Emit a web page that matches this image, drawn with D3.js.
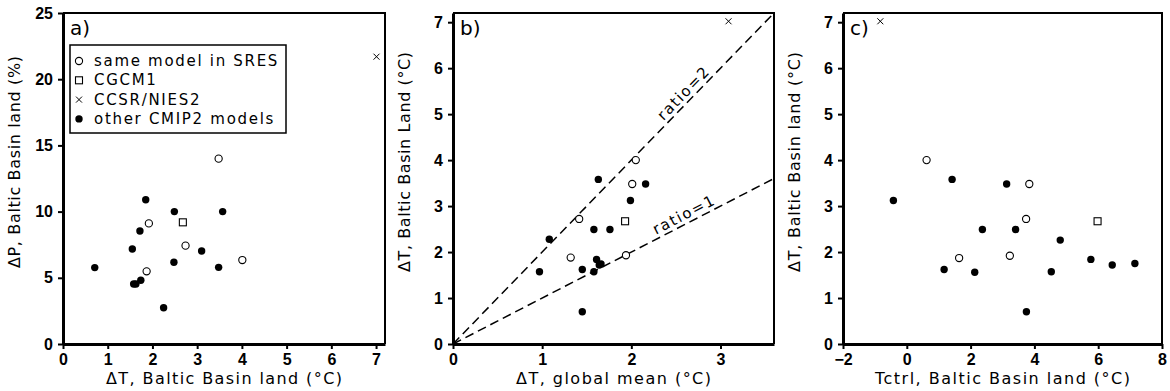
<!DOCTYPE html>
<html>
<head>
<meta charset="utf-8">
<script src="https://cdn.jsdelivr.net/npm/d3@7"></script>
<style>
  body { margin: 0; background: #fff; }
  .lbl { font-family: "DejaVu Sans", sans-serif; font-size: 15px; letter-spacing: 1.7px; }
  .ttl { font-family: "DejaVu Sans", sans-serif; font-size: 16px; }
</style>
</head>
<body>
<div id="chart"></div>
<script>
// panel a: dT Baltic land vs dP Baltic land
const aOther = [[0.71,5.77],[1.55,7.17],[1.58,4.53],[1.63,4.53],[1.72,8.53],[1.74,4.81],[1.85,10.9],
  [2.25,2.74],[2.48,6.17],[2.49,10.0],[3.10,7.02],[3.48,5.79],[3.57,10.0]];
const aSres = [[1.92,9.11],[1.87,5.49],[2.74,7.43],[4.01,6.34],[3.48,14.0]];
const aCgcm = [[2.68,9.19]];
const aCcsr = [[7.01,21.7]];

// panel b: dT global mean vs dT Baltic land
const bOther = [[0.97,1.57],[1.08,2.28],[1.45,1.62],[1.45,0.70],[1.58,1.57],[1.58,2.49],[1.61,1.84],
  [1.64,1.72],[1.66,1.74],[1.63,3.58],[1.76,2.49],[1.99,3.12],[2.16,3.48]];
const bSres = [[1.415,2.72],[1.32,1.88],[1.94,1.93],[2.05,4.0],[2.01,3.48]];
const bCgcm = [[1.93,2.67]];
const bCcsr = [[3.09,7.02]];
const ratios = [2, 1];

// panel c: Tctrl Baltic land vs dT Baltic land
const cOther = [[-0.42,3.12],[1.17,1.62],[1.42,3.58],[2.13,1.56],[2.37,2.49],[3.13,3.48],[3.41,2.49],
  [3.75,0.70],[4.53,1.57],[4.81,2.26],[5.77,1.84],[6.44,1.72],[7.15,1.75]];
const cSres = [[1.64,1.87],[3.23,1.92],[3.74,2.72],[0.62,4.0],[3.84,3.48]];
const cCgcm = [[5.98,2.67]];
const cCcsr = [[-0.83,7.02]];

const legendNames = ["same model in SRES", "CGCM1", "CCSR/NIES2", "other CMIP2 models"];

const svg = d3.select("#chart").append("svg").attr("width", 1170).attr("height", 391);
const plotTop = 13, plotBottom = 344;

function marker(g, kind, x, y) {
  if (kind === "other") {
    g.append("circle").attr("cx", x).attr("cy", y).attr("r", 3.7).attr("fill", "#000");
  } else if (kind === "sres") {
    g.append("circle").attr("cx", x).attr("cy", y).attr("r", 3.6)
      .attr("fill", "#fff").attr("stroke", "#000").attr("stroke-width", 1.1);
  } else if (kind === "cgcm") {
    g.append("rect").attr("x", x - 3.5).attr("y", y - 3.5).attr("width", 7).attr("height", 7)
      .attr("fill", "#fff").attr("stroke", "#000").attr("stroke-width", 1.1);
  } else {
    g.append("path").attr("d", `M${x-3},${y-3}L${x+3},${y+3}M${x-3},${y+3}L${x+3},${y-3}`)
      .attr("stroke", "#000").attr("stroke-width", 1);
  }
}

function panel(o) {
  const x = d3.scaleLinear().domain(o.xDom).range([o.left, o.right]);
  const y = d3.scaleLinear().domain(o.yDom).range([plotBottom, plotTop]);
  const g = svg.append("g");

  // frame top / right
  g.append("path").attr("d", `M${o.left},${plotTop}H${o.right}V${plotBottom}`)
    .attr("fill", "none").attr("stroke", "#000").attr("stroke-width", 2);

  const ax = g.append("g").attr("transform", `translate(0,${plotBottom})`)
    .call(d3.axisBottom(x).tickValues(o.xTicks).tickSize(5).tickSizeOuter(0).tickPadding(5).tickFormat(d3.format("d")));
  const ay = g.append("g").attr("transform", `translate(${o.left},0)`)
    .call(d3.axisLeft(y).tickValues(o.yTicks).tickSize(5).tickSizeOuter(0).tickPadding(5).tickFormat(d3.format("d")));
  [ax, ay].forEach(a => {
    a.select(".domain").attr("stroke-width", 3);
    a.selectAll(".tick line").attr("stroke-width", 2);
    a.selectAll(".tick text")
      .style("font-family", "'Liberation Sans', Arial, sans-serif")
      .style("font-weight", "bold").style("font-size", "16px");
  });

  if (o.ratios) {
    o.ratios.forEach((r, i) => {
      const xe = Math.min(o.xDom[1], o.yDom[1] / r);
      g.append("line").attr("x1", x(0)).attr("y1", y(0)).attr("x2", x(xe)).attr("y2", y(xe * r))
        .attr("stroke", "#000").attr("stroke-width", 1.5).attr("stroke-dasharray", "9,5");
      const ang = Math.atan2(y(r) - y(0), x(1) - x(0)) * 180 / Math.PI;
      const lx = o.ratioAt[i];
      g.append("text").attr("class", "lbl")
        .attr("transform", `translate(${x(lx)},${y(lx * r)}) rotate(${ang})`)
        .attr("y", -4).attr("text-anchor", "middle").text("ratio=" + r);
    });
  }

  const series = [["other", o.other], ["sres", o.sres], ["cgcm", o.cgcm], ["ccsr", o.ccsr]];
  series.forEach(([k, pts]) => pts.forEach(p => marker(g, k, x(p[0]), y(p[1]))));

  g.append("text").attr("x", o.left + 7).attr("y", plotTop + 22)
    .style("font-family", "DejaVu Sans, sans-serif").style("font-size", "20px").text(o.tag);

  g.append("text").attr("class", "ttl").attr("x", (o.left + o.right) / 2).attr("y", 384)
    .attr("text-anchor", "middle").attr("textLength", o.xTitleW).attr("lengthAdjust", "spacing")
    .text(o.xTitle);
  g.append("text").attr("class", "ttl").attr("text-anchor", "middle")
    .attr("textLength", o.yTitleW).attr("lengthAdjust", "spacing")
    .attr("transform", `translate(${o.left - 43},162) rotate(-90)`).text(o.yTitle);
  return g;
}

const ga = panel({ left: 63, right: 385, xDom: [0, 7.2], yDom: [0, 25],
  xTicks: d3.range(0, 8), yTicks: d3.range(0, 26, 5),
  other: aOther, sres: aSres, cgcm: aCgcm, ccsr: aCcsr, tag: "a)",
  xTitle: "ΔT, Baltic Basin land (°C)", xTitleW: 236,
  yTitle: "ΔP, Baltic Basin land (%)", yTitleW: 212 });

panel({ left: 453, right: 774, xDom: [0, 3.6], yDom: [0, 7.2],
  xTicks: d3.range(0, 4), yTicks: d3.range(0, 8),
  other: bOther, sres: bSres, cgcm: bCgcm, ccsr: bCcsr, tag: "b)",
  ratios: ratios, ratioAt: [2.66, 2.64],
  xTitle: "ΔT, global mean (°C)", xTitleW: 195,
  yTitle: "ΔT, Baltic Basin Land (°C)", yTitleW: 220 });

panel({ left: 843, right: 1162, xDom: [-2, 8], yDom: [0, 7.2],
  xTicks: d3.range(-2, 9, 2), yTicks: d3.range(0, 8),
  other: cOther, sres: cSres, cgcm: cCgcm, ccsr: cCcsr, tag: "c)",
  xTitle: "Tctrl, Baltic Basin land (°C)", xTitleW: 255,
  yTitle: "ΔT, Baltic Basin land (°C)", yTitleW: 220 });

// legend in panel a
const leg = ga.append("g").attr("transform", "translate(70,45)");
leg.append("rect").attr("width", 216).attr("height", 88)
  .attr("fill", "#fff").attr("stroke", "#000").attr("stroke-width", 1.5);
const legKinds = ["sres", "cgcm", "ccsr", "other"];
legendNames.forEach((n, i) => {
  const yy = 16 + i * 19.3;
  marker(leg, legKinds[i], 9, yy);
  leg.append("text").attr("class", "lbl").attr("x", 24).attr("y", yy + 5).text(n);
});
</script>
</body>
</html>
